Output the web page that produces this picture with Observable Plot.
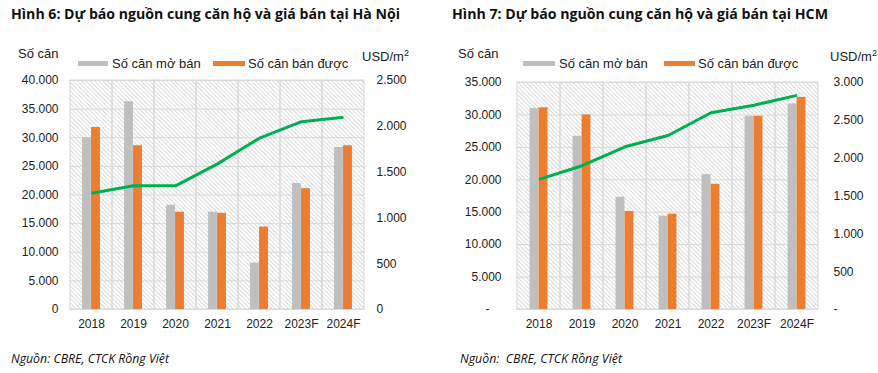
<!DOCTYPE html>
<html>
<head>
<meta charset="utf-8">
<script src="https://cdn.jsdelivr.net/npm/d3@7"></script>
<script src="https://cdn.jsdelivr.net/npm/@observablehq/plot@0.6"></script>
<style>
  html, body { margin: 0; padding: 0; background: #fff; }
  #root { position: relative; width: 878px; height: 373px; overflow: hidden; background: #fff; font-family: "Liberation Sans", Arial, sans-serif; color: #222; }
  .abs { position: absolute; white-space: nowrap; }
  .title { font-family: "Open Sans", "Noto Sans", sans-serif; font-weight: 700; font-size: 14px; line-height: 18px; color: #111; transform-origin: 0 50%; }
  .lbl { font-size: 13px; line-height: 15px; }
  .sw { position: absolute; height: 5px; }
  .foot { font-family: "Open Sans", "Noto Sans", sans-serif; font-style: italic; font-size: 12px; line-height: 14px; color: #111; transform-origin: 0 50%; }
  .panel { position: absolute; top: 0; }
</style>
</head>
<body>
<div id="root"></div>
<script>
// ---------- Data ----------
const years = ["2018", "2019", "2020", "2021", "2022", "2023F", "2024F"];

// Hình 6 – Hà Nội
const hnOpened = [30000, 36300, 18200, 17000, 8100, 22000, 28300];
const hnSold   = [31800, 28600, 17000, 16800, 14400, 21100, 28600];
const hnPrice  = [1270, 1350, 1350, 1590, 1870, 2050, 2100];
const hnLeftTicks  = [0, 5000, 10000, 15000, 20000, 25000, 30000, 35000, 40000];
const hnRightTicks = [0, 500, 1000, 1500, 2000, 2500];

// Hình 7 – HCM
const hcmOpened = [31000, 26700, 17300, 14400, 20800, 29800, 31700];
const hcmSold   = [31100, 30000, 15100, 14700, 19300, 29800, 32700];
const hcmPrice  = [1720, 1900, 2150, 2300, 2600, 2700, 2830];
const hcmLeftTicks  = [0, 5000, 10000, 15000, 20000, 25000, 30000, 35000];
const hcmRightTicks = [0, 500, 1000, 1500, 2000, 2500, 3000];

const titles = ["Hình 6: Dự báo nguồn cung căn hộ và giá bán tại Hà Nội", "Hình 7: Dự báo nguồn cung căn hộ và giá bán tại HCM"];
const seriesNames = ["Số căn mở bán", "Số căn bán được"];
const leftUnit = "Số căn";
const rightUnit = "USD/m";
const sources = ["Nguồn: CBRE, CTCK Rồng Việt", "Nguồn:\u00a0 CBRE, CTCK Rồng Việt"];

const colors = { opened: "#bfbfbf", sold: "#ed7d31", price: "#00b050", grid: "#d9d9d9" };

const loc = d3.formatLocale({ decimal: ",", thousands: ".", grouping: [3], currency: ["", ""] });
const fmt = loc.format(",.0f");

const root = document.getElementById("root");

function panel(cfg) {
  const rows = years.map((y, i) => ({ year: y, opened: cfg.opened[i], sold: cfg.sold[i], price: cfg.price[i] }));
  const k = cfg.leftMax / cfg.rightMax;
  const plotW = cfg.width - cfg.ml - cfg.mr;
  const bw = plotW / years.length;
  const barW = 9;
  const hatchId = "hatch-" + cfg.id;
  const chart = Plot.plot({
    width: cfg.width,
    height: 373,
    marginLeft: cfg.ml,
    marginRight: cfg.mr,
    marginTop: cfg.mt,
    marginBottom: cfg.mb,
    style: { fontFamily: "'Liberation Sans', Arial, sans-serif", fontSize: "12px", color: "#222", background: "transparent", overflow: "visible" },
    x: { type: "band", domain: years, padding: 0, axis: null, label: null },
    y: { domain: [0, cfg.leftMax], axis: null, label: null },
    marks: [
      Plot.frame({ fill: `url(#${hatchId})`, stroke: null }),
      Plot.gridY(cfg.leftTicks, { stroke: colors.grid, strokeOpacity: 1, strokeWidth: 1 }),
      Plot.cell(years, { x: d => d, stroke: colors.grid, strokeWidth: 1, fill: "none" }),
      Plot.barY(rows, { x: "year", y: "opened", fill: colors.opened, insetLeft: bw / 2 - barW, insetRight: bw / 2 }),
      Plot.barY(rows, { x: "year", y: "sold", fill: colors.sold, insetLeft: bw / 2, insetRight: bw / 2 - barW }),
      Plot.line(rows, { x: "year", y: d => d.price * k, stroke: colors.price, strokeWidth: 3, strokeLinejoin: "round", strokeLinecap: "butt" }),
      Plot.axisY(cfg.leftTicks, { anchor: "left", label: null, tickSize: 0, tickPadding: cfg.lpad, tickFormat: d => d === 0 ? cfg.zeroLeft : fmt(d), fill: "#222" }),
      Plot.axisY(cfg.rightTicks.map(v => v * k), { anchor: "right", label: null, tickSize: 0, tickPadding: cfg.rpad, tickFormat: d => { const v = Math.round(d / k); return v === 0 ? cfg.zeroRight : fmt(v); }, fill: "#222" }),
      Plot.axisX(years, { anchor: "bottom", label: null, tickSize: 0, tickPadding: 10, fill: "#222" })
    ]
  });
  // hatch pattern definition
  const ns = "http://www.w3.org/2000/svg";
  const svg = chart.tagName.toLowerCase() === "svg" ? chart : chart.querySelector("svg");
  const defs = document.createElementNS(ns, "defs");
  const pat = document.createElementNS(ns, "pattern");
  pat.setAttribute("id", hatchId);
  pat.setAttribute("patternUnits", "userSpaceOnUse");
  pat.setAttribute("width", "3");
  pat.setAttribute("height", "3");
  pat.setAttribute("patternTransform", "rotate(-45)");
  const bg = document.createElementNS(ns, "rect");
  bg.setAttribute("width", "3"); bg.setAttribute("height", "3"); bg.setAttribute("fill", "#ffffff");
  const ln = document.createElementNS(ns, "line");
  ln.setAttribute("x1", "0.5"); ln.setAttribute("y1", "0"); ln.setAttribute("x2", "0.5"); ln.setAttribute("y2", "3");
  ln.setAttribute("stroke", "#d2d2d2"); ln.setAttribute("stroke-width", "0.8");
  pat.appendChild(bg); pat.appendChild(ln); defs.appendChild(pat);
  svg.insertBefore(defs, svg.firstChild);
  chart.classList.add("panel");
  chart.style.left = cfg.left + "px";
  root.appendChild(chart);

  // texts
  const add = (html, cls, x, yc, h, w) => {
    const el = document.createElement("div");
    el.className = "abs " + cls;
    el.innerHTML = html;
    el.style.left = x + "px";
    el.style.top = (yc - h / 2) + "px";
    root.appendChild(el);
    if (w) {
      const mw = el.getBoundingClientRect().width;
      el.style.transform = `scaleX(${w / mw})`;
    }
    return el;
  };
  const sw = (x, w, color) => {
    const el = document.createElement("div");
    el.className = "sw";
    el.style.left = x + "px"; el.style.top = "61px"; el.style.width = w + "px"; el.style.background = color;
    root.appendChild(el);
  };
  add(cfg.title, "title", cfg.titleX, 14, 18, cfg.titleW);
  add(leftUnit, "lbl", cfg.unitLX, 53, 15);
  add(rightUnit + "<sup style='font-size:9px;line-height:0'>2</sup>", "lbl", cfg.unitRX, 56, 15);
  sw(cfg.sw1X, cfg.sw1W, colors.opened);
  add(seriesNames[0], "lbl", cfg.sw1X + cfg.sw1W + 4, 63.5, 15);
  sw(cfg.sw2X, cfg.sw2W, colors.sold);
  add(seriesNames[1], "lbl", cfg.sw2X + cfg.sw2W + 3, 63.5, 15);
  add(cfg.source, "foot", cfg.footX, 359, 14, cfg.footW);
}

panel({
  id: "hn", left: 0, width: 439, ml: 69, mr: 75, mt: 80, mb: 64,
  opened: hnOpened, sold: hnSold, price: hnPrice,
  leftMax: 40000, rightMax: 2500, leftTicks: hnLeftTicks, rightTicks: hnRightTicks,
  lpad: 11, rpad: 12, zeroLeft: "0", zeroRight: "0",
  title: titles[0], titleX: 11, titleW: 389,
  unitLX: 18, unitRX: 362, sw1X: 78, sw1W: 30, sw2X: 213, sw2W: 32,
  source: sources[0], footX: 11, footW: 158
});

panel({
  id: "hcm", left: 439, width: 439, ml: 77, mr: 60, mt: 82, mb: 64,
  opened: hcmOpened, sold: hcmSold, price: hcmPrice,
  leftMax: 35000, rightMax: 3000, leftTicks: hcmLeftTicks, rightTicks: hcmRightTicks,
  lpad: 15, rpad: 15, zeroLeft: "-\u2002\u2002", zeroRight: "-",
  title: titles[1], titleX: 452, titleW: 376,
  unitLX: 458, unitRX: 830, sw1X: 523, sw1W: 32, sw2X: 664, sw2W: 31,
  source: sources[1], footX: 460, footW: 162
});
</script>
</body>
</html>
